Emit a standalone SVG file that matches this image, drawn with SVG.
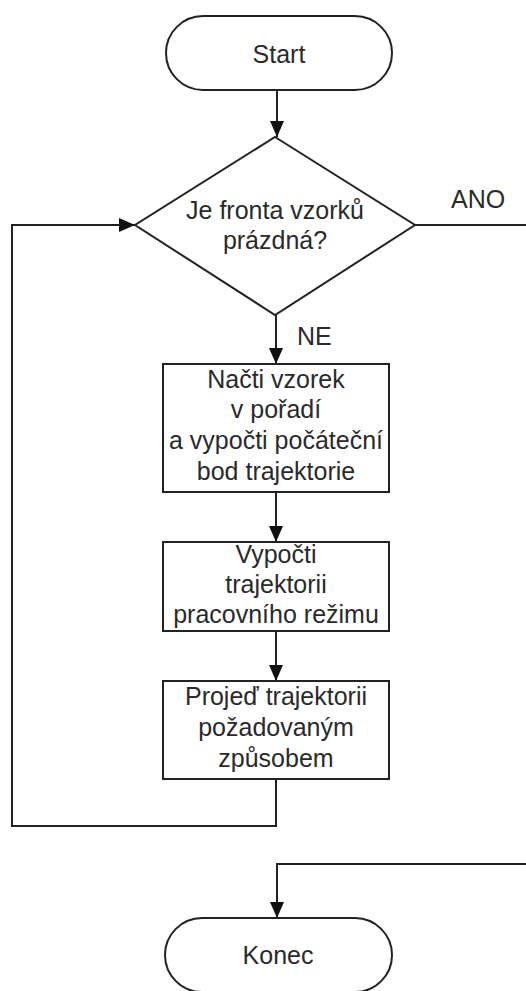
<svg xmlns="http://www.w3.org/2000/svg" width="526" height="991" viewBox="0 0 526 991">
<style>
.shape{fill:#fff;stroke:#222;stroke-width:2}
.conn{fill:none;stroke:#222;stroke-width:2}
text{font-family:"Liberation Sans",Arial,sans-serif;font-size:25px;fill:#2a2a2a;text-anchor:middle}
.lbl{text-anchor:start}
</style>
<defs>
<marker id="arr" viewBox="0 0 16 14" refX="16" refY="7" markerWidth="16" markerHeight="14" markerUnits="userSpaceOnUse" orient="auto">
<path d="M0,0 L16,7 L0,14 Z" fill="#111"/>
</marker>
</defs>
<rect width="526" height="991" fill="#fff"/>
<g id="connectors">
<path class="conn" d="M277,90 V137" marker-end="url(#arr)"/>
<path class="conn" d="M276,315 V364" marker-end="url(#arr)"/>
<path class="conn" d="M276,492 V542" marker-end="url(#arr)"/>
<path class="conn" d="M276,631 V681" marker-end="url(#arr)"/>
<path class="conn" d="M276,779 V826 H12 V225 H135" marker-end="url(#arr)"/>
<path class="conn" d="M415,225 H530 V864 H277 V918" marker-end="url(#arr)"/>
<text class="lbl" x="451" y="208">ANO</text>
<text class="lbl" x="297" y="345">NE</text>
</g>
<g id="start">
<rect class="shape" x="166" y="16" width="226" height="74" rx="37"/>
<text x="279" y="63">Start</text>
</g>
<g id="decision">
<polygon class="shape" points="275,137 415,225 275,315 135,225"/>
<text x="275" y="219">Je fronta vzorků</text>
<text x="275" y="249">prázdná?</text>
</g>
<g id="load">
<rect class="shape" x="163" y="364" width="226" height="128"/>
<text x="276" y="388">Načti vzorek</text>
<text x="276" y="418">v pořadí</text>
<text x="276" y="449">a vypočti počáteční</text>
<text x="276" y="480">bod trajektorie</text>
</g>
<g id="compute">
<rect class="shape" x="163" y="542" width="226" height="89"/>
<text x="276" y="563">Vypočti</text>
<text x="276" y="593">trajektorii</text>
<text x="276" y="623">pracovního režimu</text>
</g>
<g id="run">
<rect class="shape" x="163" y="681" width="226" height="98"/>
<text x="276" y="705">Projeď trajektorii</text>
<text x="276" y="736">požadovaným</text>
<text x="276" y="767">způsobem</text>
</g>
<g id="end">
<rect class="shape" x="165" y="918" width="227" height="74" rx="37"/>
<text x="278" y="964">Konec</text>
</g>
</svg>
